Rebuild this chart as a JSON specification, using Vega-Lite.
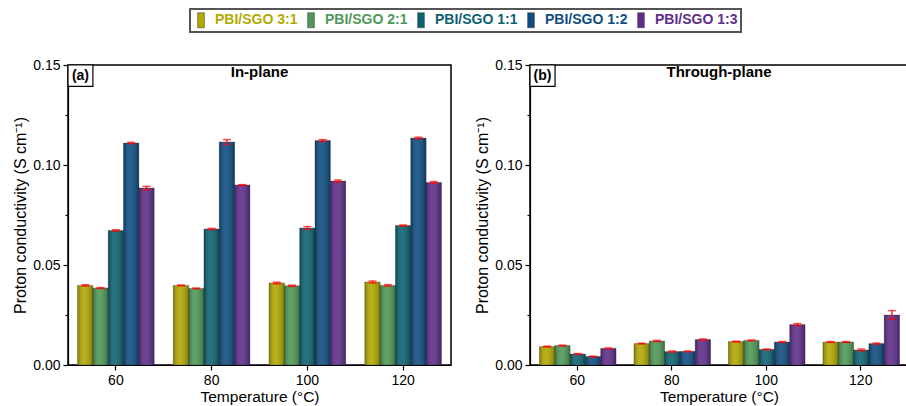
{
  "$schema": "https://vega.github.io/schema/vega-lite/v6.json",
  "padding": {"left": 12, "top": 8, "right": 0, "bottom": 0},
  "background": "white",
  "spacing": 22,
  "datasets": {
    "cond": [
      {"panel": "In-plane", "temp": 60, "series": "PBI/SGO 3:1", "value": 0.0398, "lo": 0.0395, "hi": 0.0401},
      {"panel": "In-plane", "temp": 60, "series": "PBI/SGO 2:1", "value": 0.0385, "lo": 0.0383, "hi": 0.0387},
      {"panel": "In-plane", "temp": 60, "series": "PBI/SGO 1:1", "value": 0.0673, "lo": 0.0670, "hi": 0.0676},
      {"panel": "In-plane", "temp": 60, "series": "PBI/SGO 1:2", "value": 0.1110, "lo": 0.1107, "hi": 0.1113},
      {"panel": "In-plane", "temp": 60, "series": "PBI/SGO 1:3", "value": 0.0885, "lo": 0.0877, "hi": 0.0893},
      {"panel": "In-plane", "temp": 80, "series": "PBI/SGO 3:1", "value": 0.0398, "lo": 0.0396, "hi": 0.0400},
      {"panel": "In-plane", "temp": 80, "series": "PBI/SGO 2:1", "value": 0.0383, "lo": 0.0381, "hi": 0.0385},
      {"panel": "In-plane", "temp": 80, "series": "PBI/SGO 1:1", "value": 0.0680, "lo": 0.0677, "hi": 0.0683},
      {"panel": "In-plane", "temp": 80, "series": "PBI/SGO 1:2", "value": 0.1115, "lo": 0.1103, "hi": 0.1127},
      {"panel": "In-plane", "temp": 80, "series": "PBI/SGO 1:3", "value": 0.0900, "lo": 0.0898, "hi": 0.0902},
      {"panel": "In-plane", "temp": 100, "series": "PBI/SGO 3:1", "value": 0.0410, "lo": 0.0406, "hi": 0.0414},
      {"panel": "In-plane", "temp": 100, "series": "PBI/SGO 2:1", "value": 0.0396, "lo": 0.0393, "hi": 0.0399},
      {"panel": "In-plane", "temp": 100, "series": "PBI/SGO 1:1", "value": 0.0685, "lo": 0.0678, "hi": 0.0692},
      {"panel": "In-plane", "temp": 100, "series": "PBI/SGO 1:2", "value": 0.1122, "lo": 0.1117, "hi": 0.1127},
      {"panel": "In-plane", "temp": 100, "series": "PBI/SGO 1:3", "value": 0.0920, "lo": 0.0915, "hi": 0.0925},
      {"panel": "In-plane", "temp": 120, "series": "PBI/SGO 3:1", "value": 0.0415, "lo": 0.0410, "hi": 0.0420},
      {"panel": "In-plane", "temp": 120, "series": "PBI/SGO 2:1", "value": 0.0398, "lo": 0.0394, "hi": 0.0402},
      {"panel": "In-plane", "temp": 120, "series": "PBI/SGO 1:1", "value": 0.0697, "lo": 0.0694, "hi": 0.0700},
      {"panel": "In-plane", "temp": 120, "series": "PBI/SGO 1:2", "value": 0.1135, "lo": 0.1131, "hi": 0.1139},
      {"panel": "In-plane", "temp": 120, "series": "PBI/SGO 1:3", "value": 0.0913, "lo": 0.0909, "hi": 0.0917},
      {"panel": "Through-plane", "temp": 60, "series": "PBI/SGO 3:1", "value": 0.0092, "lo": 0.0090, "hi": 0.0094},
      {"panel": "Through-plane", "temp": 60, "series": "PBI/SGO 2:1", "value": 0.0097, "lo": 0.0095, "hi": 0.0099},
      {"panel": "Through-plane", "temp": 60, "series": "PBI/SGO 1:1", "value": 0.0055, "lo": 0.0053, "hi": 0.0057},
      {"panel": "Through-plane", "temp": 60, "series": "PBI/SGO 1:2", "value": 0.0042, "lo": 0.0040, "hi": 0.0044},
      {"panel": "Through-plane", "temp": 60, "series": "PBI/SGO 1:3", "value": 0.0083, "lo": 0.0081, "hi": 0.0085},
      {"panel": "Through-plane", "temp": 80, "series": "PBI/SGO 3:1", "value": 0.0107, "lo": 0.0105, "hi": 0.0109},
      {"panel": "Through-plane", "temp": 80, "series": "PBI/SGO 2:1", "value": 0.0120, "lo": 0.0117, "hi": 0.0123},
      {"panel": "Through-plane", "temp": 80, "series": "PBI/SGO 1:1", "value": 0.0067, "lo": 0.0064, "hi": 0.0070},
      {"panel": "Through-plane", "temp": 80, "series": "PBI/SGO 1:2", "value": 0.0068, "lo": 0.0066, "hi": 0.0070},
      {"panel": "Through-plane", "temp": 80, "series": "PBI/SGO 1:3", "value": 0.0127, "lo": 0.0124, "hi": 0.0130},
      {"panel": "Through-plane", "temp": 100, "series": "PBI/SGO 3:1", "value": 0.0117, "lo": 0.0115, "hi": 0.0119},
      {"panel": "Through-plane", "temp": 100, "series": "PBI/SGO 2:1", "value": 0.0123, "lo": 0.0121, "hi": 0.0125},
      {"panel": "Through-plane", "temp": 100, "series": "PBI/SGO 1:1", "value": 0.0078, "lo": 0.0076, "hi": 0.0080},
      {"panel": "Through-plane", "temp": 100, "series": "PBI/SGO 1:2", "value": 0.0115, "lo": 0.0113, "hi": 0.0117},
      {"panel": "Through-plane", "temp": 100, "series": "PBI/SGO 1:3", "value": 0.0202, "lo": 0.0197, "hi": 0.0207},
      {"panel": "Through-plane", "temp": 120, "series": "PBI/SGO 3:1", "value": 0.0115, "lo": 0.0113, "hi": 0.0117},
      {"panel": "Through-plane", "temp": 120, "series": "PBI/SGO 2:1", "value": 0.0115, "lo": 0.0113, "hi": 0.0117},
      {"panel": "Through-plane", "temp": 120, "series": "PBI/SGO 1:1", "value": 0.0075, "lo": 0.0070, "hi": 0.0080},
      {"panel": "Through-plane", "temp": 120, "series": "PBI/SGO 1:2", "value": 0.0107, "lo": 0.0104, "hi": 0.0110},
      {"panel": "Through-plane", "temp": 120, "series": "PBI/SGO 1:3", "value": 0.0250, "lo": 0.0228, "hi": 0.0272}
    ],
    "labA": [{"tag": "(a)", "name": "In-plane"}],
    "labB": [{"tag": "(b)", "name": "Through-plane"}]
  },
  "hconcat": [
    {
      "width": 383,
      "height": 300,
      "layer": [
        {
          "data": {"name": "cond"},
          "transform": [{"filter": "datum.panel === 'In-plane'"}],
          "encoding": {
            "x": {"field": "temp", "type": "ordinal", "scale": {"type": "band", "paddingInner": 0.2, "paddingOuter": 0.1},
                  "axis": {"title": "Temperature (°C)", "labelAngle": 0}},
            "xOffset": {"field": "series", "type": "nominal", "sort": ["PBI/SGO 3:1", "PBI/SGO 2:1", "PBI/SGO 1:1", "PBI/SGO 1:2", "PBI/SGO 1:3"], "scale": {"paddingInner": 0, "paddingOuter": 0}},
            "y": {"field": "value", "type": "quantitative",
                  "scale": {"domain": [0, 0.15], "nice": false},
                  "axis": {"title": "Proton conductivity (S cm⁻¹)", "values": [0, 0.025, 0.05, 0.075, 0.1, 0.125, 0.15],
                           "labelExpr": "round(datum.value*1000) % 50 === 0 ? format(datum.value, '.2f') : ''",
                           "tickSize": {"condition": {"test": "round(datum.value*1000) % 50 !== 0", "value": 3}, "value": 5}}}
          },
          "layer": [
            {
              "mark": {"type": "bar", "stroke": "#222", "strokeWidth": 0.5, "strokeOpacity": 0.6},
              "encoding": {
                "color": {"field": "series", "type": "nominal",
                  "scale": {"domain": ["PBI/SGO 3:1", "PBI/SGO 2:1", "PBI/SGO 1:1", "PBI/SGO 1:2", "PBI/SGO 1:3"],
                            "range": ["#b2aa00", "#4f9857", "#0d6272", "#0e4d82", "#5e2d8a"]},
                  "legend": {"encode": {"labels": {"update": {"fill": {"scale": "color", "field": "value"}}}}}}
              }
            },
            {
              "mark": {"type": "bar", "fill": {"gradient": "linear", "x1": 0, "x2": 1, "y1": 0, "y2": 0,
                "stops": [{"offset": 0, "color": "rgba(0,0,0,0.28)"}, {"offset": 0.4, "color": "rgba(255,255,255,0.1)"}, {"offset": 1, "color": "rgba(0,0,0,0.28)"}]}}
            },
            {
              "mark": {"type": "rule", "color": "#ff0000", "strokeWidth": 1.2},
              "encoding": {"y": {"field": "lo", "type": "quantitative"}, "y2": {"field": "hi"}}
            },
            {
              "mark": {"type": "tick", "color": "#ff0000", "size": 8, "thickness": 1.5},
              "encoding": {"y": {"field": "hi", "type": "quantitative"}}
            },
            {
              "mark": {"type": "tick", "color": "#ff0000", "size": 8, "thickness": 1.5},
              "encoding": {"y": {"field": "lo", "type": "quantitative"}}
            }
          ]
        },
        {
          "data": {"name": "labA"},
          "layer": [
            {
              "mark": {"type": "rect", "fill": "white", "stroke": "black", "strokeWidth": 1.2},
              "encoding": {
                "x": {"datum": 50, "type": "quantitative", "scale": {"domain": [50, 130], "nice": false, "zero": false}, "axis": null},
                "x2": {"datum": 55.2},
                "y": {"datum": 0.15, "type": "quantitative"},
                "y2": {"datum": 0.1393}
              }
            },
            {
              "mark": {"type": "text", "font": "Liberation Sans", "fontWeight": "bold", "fontSize": 14, "align": "center", "baseline": "middle"},
              "encoding": {
                "x": {"datum": 52.6, "type": "quantitative"},
                "y": {"datum": 0.1447, "type": "quantitative"},
                "text": {"field": "tag"}
              }
            },
            {
              "mark": {"type": "text", "font": "Liberation Sans", "fontWeight": "bold", "fontSize": 15, "align": "center", "baseline": "middle"},
              "encoding": {
                "x": {"datum": 90, "type": "quantitative"},
                "y": {"datum": 0.1467, "type": "quantitative"},
                "text": {"field": "name"}
              }
            }
          ]
        }
      ],
      "resolve": {"scale": {"x": "independent"}}
    },
    {
      "width": 378,
      "height": 300,
      "layer": [
        {
          "data": {"name": "cond"},
          "transform": [{"filter": "datum.panel === 'Through-plane'"}],
          "encoding": {
            "x": {"field": "temp", "type": "ordinal", "scale": {"type": "band", "paddingInner": 0.2, "paddingOuter": 0.1},
                  "axis": {"title": "Temperature (°C)", "labelAngle": 0}},
            "xOffset": {"field": "series", "type": "nominal", "sort": ["PBI/SGO 3:1", "PBI/SGO 2:1", "PBI/SGO 1:1", "PBI/SGO 1:2", "PBI/SGO 1:3"], "scale": {"paddingInner": 0, "paddingOuter": 0}},
            "y": {"field": "value", "type": "quantitative",
                  "scale": {"domain": [0, 0.15], "nice": false},
                  "axis": {"title": "Proton conductivity (S cm⁻¹)", "values": [0, 0.025, 0.05, 0.075, 0.1, 0.125, 0.15],
                           "labelExpr": "round(datum.value*1000) % 50 === 0 ? format(datum.value, '.2f') : ''",
                           "tickSize": {"condition": {"test": "round(datum.value*1000) % 50 !== 0", "value": 3}, "value": 5}}}
          },
          "layer": [
            {
              "mark": {"type": "bar", "stroke": "#222", "strokeWidth": 0.5, "strokeOpacity": 0.6},
              "encoding": {
                "color": {"field": "series", "type": "nominal",
                  "scale": {"domain": ["PBI/SGO 3:1", "PBI/SGO 2:1", "PBI/SGO 1:1", "PBI/SGO 1:2", "PBI/SGO 1:3"],
                            "range": ["#b2aa00", "#4f9857", "#0d6272", "#0e4d82", "#5e2d8a"]},
                  "legend": {"encode": {"labels": {"update": {"fill": {"scale": "color", "field": "value"}}}}}}
              }
            },
            {
              "mark": {"type": "bar", "fill": {"gradient": "linear", "x1": 0, "x2": 1, "y1": 0, "y2": 0,
                "stops": [{"offset": 0, "color": "rgba(0,0,0,0.28)"}, {"offset": 0.4, "color": "rgba(255,255,255,0.1)"}, {"offset": 1, "color": "rgba(0,0,0,0.28)"}]}}
            },
            {
              "mark": {"type": "rule", "color": "#ff0000", "strokeWidth": 1.2},
              "encoding": {"y": {"field": "lo", "type": "quantitative"}, "y2": {"field": "hi"}}
            },
            {
              "mark": {"type": "tick", "color": "#ff0000", "size": 8, "thickness": 1.5},
              "encoding": {"y": {"field": "hi", "type": "quantitative"}}
            },
            {
              "mark": {"type": "tick", "color": "#ff0000", "size": 8, "thickness": 1.5},
              "encoding": {"y": {"field": "lo", "type": "quantitative"}}
            }
          ]
        },
        {
          "data": {"name": "labB"},
          "layer": [
            {
              "mark": {"type": "rect", "fill": "white", "stroke": "black", "strokeWidth": 1.2},
              "encoding": {
                "x": {"datum": 50, "type": "quantitative", "scale": {"domain": [50, 130], "nice": false, "zero": false}, "axis": null},
                "x2": {"datum": 55.3},
                "y": {"datum": 0.15, "type": "quantitative"},
                "y2": {"datum": 0.1393}
              }
            },
            {
              "mark": {"type": "text", "font": "Liberation Sans", "fontWeight": "bold", "fontSize": 14, "align": "center", "baseline": "middle"},
              "encoding": {
                "x": {"datum": 52.65, "type": "quantitative"},
                "y": {"datum": 0.1447, "type": "quantitative"},
                "text": {"field": "tag"}
              }
            },
            {
              "mark": {"type": "text", "font": "Liberation Sans", "fontWeight": "bold", "fontSize": 15, "align": "center", "baseline": "middle"},
              "encoding": {
                "x": {"datum": 90, "type": "quantitative"},
                "y": {"datum": 0.1467, "type": "quantitative"},
                "text": {"field": "name"}
              }
            }
          ]
        }
      ],
      "resolve": {"scale": {"x": "independent"}}
    }
  ],
  "config": {
    "font": "Liberation Sans",
    "view": {"stroke": "black", "strokeWidth": 1.5},
    "axis": {
      "domainColor": "black", "tickColor": "black", "labelColor": "black", "titleColor": "black",
      "labelFont": "Liberation Sans", "titleFont": "Liberation Sans",
      "labelFontSize": 14, "titleFontSize": 16, "titleFontWeight": "normal",
      "grid": false, "tickSize": 5, "labelPadding": 3, "titlePadding": 4, "domainWidth": 1.2, "tickWidth": 1.2
    },
    "axisX": {"titlePadding": 2, "titleFontSize": 15.5, "labelPadding": 3},
    "legend": {
      "orient": "none", "legendX": 122, "legendY": -56,
      "direction": "horizontal", "title": null,
      "symbolType": "M-0.45,-1H0.45V1H-0.45Z", "symbolSize": 225,
      "symbolStrokeColor": "#333", "symbolStrokeWidth": 0.5, "symbolOpacity": 1,
      "labelFont": "Liberation Sans", "labelFontWeight": "bold", "labelFontSize": 14,
      "labelOffset": 6, "columnPadding": 5, "labelLimit": 300,
      "padding": 3, "strokeColor": "#555", "strokeWidth": 2, "fillColor": "white"
    }
  }
}
